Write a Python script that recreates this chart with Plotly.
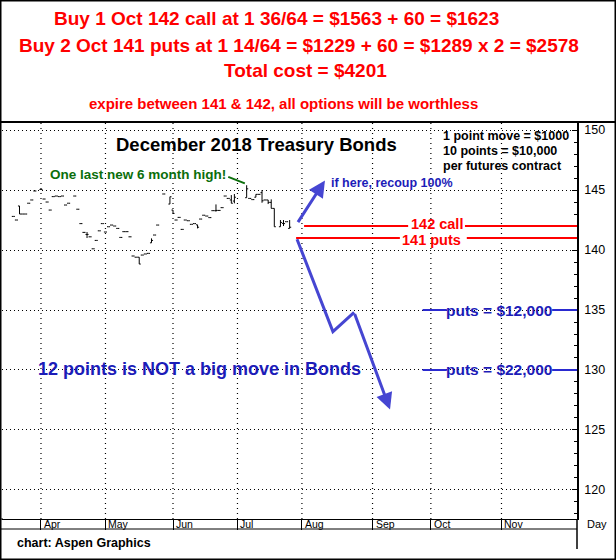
import plotly.graph_objects as go

# ---------------- data ----------------
# trading-day index (0 = first trading day of April 2018)
day = [-9, -8, -7, -6, -5, -4, -3, -2, 0, 1,
       2, 3, 4, 5, 6, 7, 8, 9, 11, 12,
       13, 14, 15, 16, 17, 18, 19, 20, 21, 22,
       23, 24, 25, 26, 27, 28, 29, 30, 31, 32,
       33, 34, 35, 36, 37, 38, 40, 42, 43, 44,
       45, 46, 47, 48, 49, 50, 51, 52, 53, 54,
       55, 56, 57, 58, 59, 60, 61, 62, 63, 67,
       68, 69, 70, 71, 72, 73, 74, 75, 76, 78,
       79, 80, 81]
open_ = [142.8, 142.5, 143.67, 143.0, 143.0, 143.9, 144.17, 144.92, 145.05, 144.25,
         144.0, 143.33, 144.45, 144.5, 144.45, 144.5, 143.75, 143.9, 144.5, 143.4,
         142.2, 141.47, 141.3, 141.1, 140.1, 140.8, 141.6, 142.2, 141.5, 141.94,
         142.08, 142.0, 141.8, 141.05, 141.53, 141.53, 141.1, 139.5, 139.4, 139.4,
         139.58, 139.67, 139.72, 140.6, 141.25, 142.08, 144.67, 143.83, 143.33, 142.5,
         142.72, 141.72, 142.5, 142.44, 142.14, 142.2, 142.1, 142.58, 142.9, 142.83,
         142.7, 143.28, 143.28, 143.3, 143.53, 144.5, 144.3, 144.17, 144.08, 144.36,
         144.3, 144.2, 144.4, 144.64, 144.78, 144.17, 144.17, 143.97, 143.47, 141.94,
         142.22, 142.36, 141.8]
high = [142.8, 142.5, 143.67, 143.0, 143.0, 143.9, 144.17, 144.92, 145.05, 144.25,
        144.0, 143.33, 144.45, 144.5, 144.45, 144.5, 143.75, 143.9, 144.5, 143.4,
        142.2, 141.47, 141.5, 141.1, 140.1, 140.8, 141.6, 142.2, 141.5, 141.94,
        142.08, 142.0, 141.8, 141.05, 141.53, 141.53, 141.1, 139.5, 139.4, 139.4,
        139.58, 139.67, 139.72, 140.97, 141.25, 142.08, 144.67, 144.44, 143.33, 142.5,
        142.72, 141.72, 142.5, 142.44, 142.14, 142.2, 142.1, 142.58, 142.9, 142.83,
        142.7, 143.28, 143.8, 143.3, 143.53, 144.5, 144.3, 144.58, 144.67, 145.4,
        144.3, 144.2, 144.64, 144.64, 145.0, 144.17, 144.17, 144.22, 143.47, 142.5,
        142.5, 142.36, 142.5]
low = [142.8, 142.5, 143.0, 143.0, 143.0, 143.9, 144.17, 144.92, 145.05, 144.25,
       144.0, 143.33, 144.45, 144.5, 144.45, 144.5, 143.75, 143.9, 144.5, 143.4,
       142.2, 141.47, 141.0, 141.1, 140.1, 140.8, 141.6, 142.2, 141.5, 141.94,
       142.08, 142.0, 141.8, 141.05, 141.53, 141.53, 141.1, 139.5, 139.4, 138.83,
       139.58, 139.67, 139.72, 140.6, 141.25, 142.08, 144.67, 143.83, 143.05, 142.5,
       142.72, 141.72, 142.5, 142.44, 142.14, 142.2, 141.8, 142.58, 142.9, 142.83,
       142.7, 143.28, 143.2, 143.3, 143.53, 144.5, 144.3, 143.89, 143.89, 144.36,
       144.3, 144.2, 144.4, 144.64, 143.94, 144.17, 143.83, 143.47, 141.94, 141.94,
       142.0, 142.36, 141.8]
close = [142.8, 142.5, 143.0, 143.0, 143.0, 143.9, 144.17, 144.92, 145.05, 144.25,
         144.0, 143.33, 144.45, 144.5, 144.45, 144.5, 143.75, 143.9, 144.5, 143.4,
         142.2, 141.47, 141.3, 141.1, 140.1, 140.8, 141.6, 142.2, 141.5, 141.94,
         142.08, 142.0, 141.8, 141.05, 141.53, 141.53, 141.1, 139.5, 139.4, 138.83,
         139.58, 139.67, 139.72, 140.8, 141.25, 142.08, 144.67, 144.44, 143.05, 142.5,
         142.72, 141.72, 142.5, 142.44, 142.14, 142.2, 141.9, 142.58, 142.9, 142.83,
         142.7, 143.28, 143.3, 143.3, 143.53, 144.5, 144.3, 143.9, 144.4, 145.1,
         144.3, 144.2, 144.64, 144.64, 144.1, 144.17, 143.97, 143.47, 141.94, 142.3,
         142.2, 142.36, 141.9]

month_labels = ["Apr", "May", "Jun", "Jul", "Aug", "Sep", "Oct", "Nov"]
month_start_day = [0, 21, 43, 64, 85, 108, 127, 150]

x_range = [-12.7, 174.6]
y_range = [117.58, 150.67]

call_strike = 142
put_strike = 141
put_targets = [135, 130]
put_target_labels = ["puts = $12,000", "puts = $22,000"]

# scenario sketches (day, price)
recoup_from = (83.4, 142.2)
recoup_to = (92.5, 145.8)
drop_day = [83.4, 95.1, 102.0, 113.7]
drop_price = [140.9, 133.2, 134.8, 126.7]
high_pointer_from = (61.0, 146.1)
high_pointer_to = (66.4, 145.55)

header_lines = [
    "Buy 1 Oct 142 call at 1 36/64 = $1563 + 60 = $1623",
    "Buy 2 Oct 141 puts at 1 14/64 = $1229 + 60 = $1289 x 2 = $2578",
    "Total cost = $4201",
]
header_note = "expire between 141 & 142, all options will be worthless"

W, H = 616, 560
FONT = "Liberation Sans, Arial, sans-serif"
RED = "#ff0000"
BLUE_LINE = "#4646d2"
BLUE_TEXT = "#1c1cb8"
GREEN = "#0b6e0b"


def px(x):
    return x / W


def py(y):
    return 1 - y / H


fig = go.Figure()

fig.add_trace(go.Ohlc(
    x=day, open=open_, high=high, low=low, close=close,
    increasing=dict(line=dict(color="black", width=1)),
    decreasing=dict(line=dict(color="black", width=1)),
    tickwidth=0.5, hoverinfo="skip", showlegend=False,
))

# first two legs of the drop scenario
fig.add_trace(go.Scatter(
    x=drop_day[:3], y=drop_price[:3], mode="lines",
    line=dict(color=BLUE_LINE, width=3), hoverinfo="skip", showlegend=False,
))

annotations = []
# header
header_pos = [(276, 19), (299, 45), (305, 70)]
for txt, (hx, hy) in zip(header_lines, header_pos):
    annotations.append(dict(x=px(hx), y=py(hy), xref="paper", yref="paper",
                            text="<b>" + txt + "</b>", showarrow=False,
                            xanchor="center", yanchor="middle",
                            font=dict(family=FONT, size=19, color=RED)))
annotations.append(dict(x=px(283), y=py(103), xref="paper", yref="paper",
                        text="<b>" + header_note + "</b>", showarrow=False,
                        xanchor="center", yanchor="middle",
                        font=dict(family=FONT, size=15, color=RED)))
# title
annotations.append(dict(x=px(256), y=py(144), xref="paper", yref="paper",
                        text="<b>December 2018 Treasury Bonds</b>", showarrow=False,
                        xanchor="center", yanchor="middle",
                        font=dict(family=FONT, size=18.5, color="black")))
# info block
for i, t in enumerate(["1 point move = $1000", "10 points = $10,000", "per futures contract"]):
    annotations.append(dict(x=px(441), y=py(136 + 15 * i), xref="paper", yref="paper",
                            text="<b>" + t + "</b>", showarrow=False,
                            xanchor="left", yanchor="middle",
                            font=dict(family=FONT, size=12.5, color="black")))
# green note
annotations.append(dict(x=px(48), y=py(174), xref="paper", yref="paper",
                        text="<b>One last new 6 month high!</b>", showarrow=False,
                        xanchor="left", yanchor="middle",
                        font=dict(family=FONT, size=13.5, color=GREEN)))
# recoup arrow
annotations.append(dict(x=recoup_to[0], y=recoup_to[1], ax=recoup_from[0], ay=recoup_from[1],
                        xref="x", yref="y", axref="x", ayref="y", text="",
                        showarrow=True, arrowhead=2, arrowsize=1.1, arrowwidth=3,
                        arrowcolor=BLUE_LINE))
annotations.append(dict(x=px(329), y=py(183), xref="paper", yref="paper",
                        text="<b>if here, recoup 100%</b>", showarrow=False,
                        xanchor="left", yanchor="middle",
                        font=dict(family=FONT, size=12.5, color=BLUE_TEXT)))
# last leg of drop
annotations.append(dict(x=drop_day[3], y=drop_price[3], ax=drop_day[2], ay=drop_price[2],
                        xref="x", yref="y", axref="x", ayref="y", text="",
                        showarrow=True, arrowhead=2, arrowsize=1.1, arrowwidth=3,
                        arrowcolor=BLUE_LINE))
# strike labels
annotations.append(dict(x=128.9, y=call_strike, xref="x", yref="y", yshift=2,
                        text="<b>142 call</b>", showarrow=False, xanchor="center", yanchor="middle",
                        font=dict(family=FONT, size=14.5, color=RED)))
annotations.append(dict(x=127.3, y=put_strike, xref="x", yref="y", yshift=-2,
                        text="<b>141 puts</b>", showarrow=False, xanchor="center", yanchor="middle",
                        font=dict(family=FONT, size=14.5, color=RED)))
for val, lab in zip(put_targets, put_target_labels):
    annotations.append(dict(x=149.3, y=val, xref="x", yref="y",
                            text="<b>" + lab + "</b>", showarrow=False,
                            xanchor="center", yanchor="middle",
                            font=dict(family=FONT, size=15.5, color=BLUE_TEXT)))
annotations.append(dict(x=px(199), y=py(369), xref="paper", yref="paper",
                        text="<b>12 points is NOT a big move in Bonds</b>", showarrow=False,
                        xanchor="center", yanchor="middle",
                        font=dict(family=FONT, size=18, color=BLUE_TEXT)))
# month labels
for m, d in zip(month_labels, month_start_day):
    annotations.append(dict(x=d, y=py(524), xref="x", yref="paper", text=m,
                            showarrow=False, xanchor="left", yanchor="middle", xshift=1,
                            font=dict(family=FONT, size=10.5, color="black")))
annotations.append(dict(x=px(597), y=py(524), xref="paper", yref="paper", text="Day",
                        showarrow=False, xanchor="center", yanchor="middle",
                        font=dict(family=FONT, size=11, color="black")))
annotations.append(dict(x=px(15), y=py(543), xref="paper", yref="paper",
                        text="<b>chart: Aspen Graphics</b>", showarrow=False,
                        xanchor="left", yanchor="middle",
                        font=dict(family=FONT, size=12.5, color="black")))

shapes = []
# vertical dotted month grid
for d in month_start_day:
    shapes.append(dict(type="line", xref="x", yref="paper", x0=d, x1=d,
                       y0=py(519), y1=py(123), layer="below",
                       line=dict(color="black", width=1.2, dash="1px,4px")))
# strike lines (broken around their labels)
for (a, b) in [(85.7, 119.6), (138.1, x_range[1])]:
    shapes.append(dict(type="line", xref="x", yref="y", x0=a, x1=b, y0=call_strike, y1=call_strike,
                       line=dict(color=RED, width=2)))
for (a, b) in [(83.1, 116.9), (138.7, x_range[1])]:
    shapes.append(dict(type="line", xref="x", yref="y", x0=a, x1=b, y0=put_strike, y1=put_strike,
                       line=dict(color=RED, width=2)))
for val in put_targets:
    for (a, b) in [(124.3, 132.2), (166.5, x_range[1])]:
        shapes.append(dict(type="line", xref="x", yref="y", x0=a, x1=b, y0=val, y1=val,
                           line=dict(color="#2a2ad0", width=2)))
# green pointer
shapes.append(dict(type="line", xref="x", yref="y",
                   x0=high_pointer_from[0], y0=high_pointer_from[1],
                   x1=high_pointer_to[0], y1=high_pointer_to[1],
                   line=dict(color=GREEN, width=2)))
# frame pieces
shapes.append(dict(type="line", xref="paper", yref="paper", x0=0, x1=1, y0=py(122), y1=py(122),
                   line=dict(color="black", width=2)))
shapes.append(dict(type="line", xref="paper", yref="paper", x0=0, x1=px(577), y0=py(529), y1=py(529),
                   line=dict(color="black", width=1)))
shapes.append(dict(type="line", xref="paper", yref="paper", x0=0, x1=px(3), y0=py(519), y1=py(519),
                   line=dict(color="black", width=1)))
shapes.append(dict(type="line", xref="paper", yref="paper", x0=px(577), x1=px(577), y0=py(519), y1=py(549),
                   line=dict(color="black", width=1.5)))
shapes.append(dict(type="rect", xref="paper", yref="paper", x0=0, x1=1, y0=0, y1=1,
                   line=dict(color="black", width=3)))

fig.update_layout(
    width=W, height=H,
    margin=dict(l=0, r=0, t=0, b=0),
    paper_bgcolor="white", plot_bgcolor="white",
    showlegend=False, hovermode=False,
    annotations=annotations, shapes=shapes,
    xaxis=dict(
        domain=[px(2), px(577)], range=x_range, type="linear",
        tickmode="array", tickvals=month_start_day, showticklabels=False,
        ticks="outside", ticklen=10, tickcolor="black", tickwidth=1,
        showgrid=False,
        showline=True, linecolor="black", linewidth=1, mirror=True,
        zeroline=False, rangeslider=dict(visible=False), fixedrange=True,
    ),
    yaxis=dict(
        domain=[py(519), py(122)], range=y_range, side="right",
        tickmode="linear", tick0=0, dtick=5,
        ticks="inside", ticklen=5, tickcolor="black", tickwidth=1,
        minor=dict(tickmode="linear", tick0=0, dtick=1, ticks="inside", ticklen=3,
                   tickcolor="black", showgrid=False),
        showgrid=True, gridcolor="black", gridwidth=1, griddash="1px,3px",
        showline=True, linecolor="black", linewidth=1.5,
        zeroline=False, ticklabelstandoff=3,
        tickfont=dict(family=FONT, size=12.5, color="black"), fixedrange=True,
    ),
)

fig.write_html("out.html")
